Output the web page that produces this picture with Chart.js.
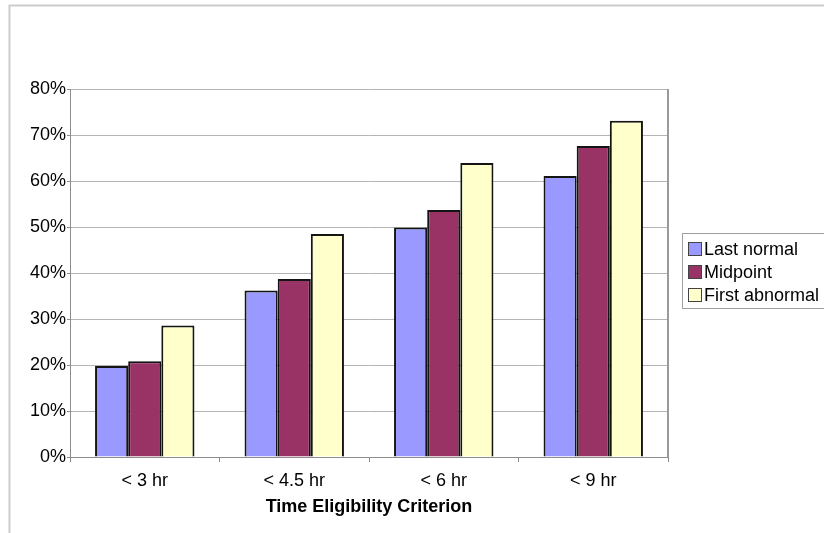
<!DOCTYPE html>
<html>
<head>
<meta charset="utf-8">
<title>Time Eligibility Criterion</title>
<script src="https://cdn.jsdelivr.net/npm/chart.js@4/dist/chart.umd.min.js"></script>
<style>
  html, body { margin: 0; padding: 0; background: #ffffff; }
  #wrap { width: 824px; height: 533px; position: relative; }
</style>
</head>
<body>
<div id="wrap"><canvas id="chart" width="824" height="533"></canvas></div>
<script>
// Share of patients eligible under each time window, by onset definition
const categories = ['< 3 hr', '< 4.5 hr', '< 6 hr', '< 9 hr'];
const seriesNames = ['Last normal', 'Midpoint', 'First abnormal'];
const lastNormal = [19.8, 36.2, 49.9, 61.1];
const midpoint = [20.8, 38.7, 53.7, 67.6];
const firstAbnormal = [28.6, 48.5, 63.9, 73.1];
const yTicks = [0, 10, 20, 30, 40, 50, 60, 70, 80];
const xTitle = 'Time Eligibility Criterion';

const fills = ['#9999ff', '#993366', '#ffffcc'];
const FONT = '"Liberation Sans", Arial, sans-serif';

// Outer frame, plot frame and the boxed legend on the right
const framePlugin = {
  id: 'frame',
  beforeDraw(chart) {
    const ctx = chart.ctx;
    ctx.save();
    ctx.fillStyle = '#ffffff';
    ctx.fillRect(0, 0, chart.width, chart.height);
    ctx.strokeStyle = '#cccccc';
    ctx.lineWidth = 2;
    ctx.strokeRect(9.5, 5.5, chart.width + 20, chart.height + 20);
    ctx.restore();
  },
  afterDraw(chart) {
    const ctx = chart.ctx;
    const a = chart.chartArea;
    ctx.save();
    // plot area right edge
    ctx.strokeStyle = '#9a9a9a';
    ctx.lineWidth = 2;
    ctx.beginPath();
    ctx.moveTo(a.right, a.top);
    ctx.lineTo(a.right, a.bottom);
    ctx.stroke();

    // legend box
    const lx = 682.5, ly = 233.5, lw = 150, lh = 75;
    ctx.strokeStyle = '#a0a0a0';
    ctx.lineWidth = 1;
    ctx.strokeRect(lx, ly, lw, lh);
    ctx.font = '18px ' + FONT;
    ctx.textBaseline = 'middle';
    ctx.textAlign = 'left';
    chart.data.datasets.forEach((ds, i) => {
      const cy = 249 + i * 23;
      ctx.fillStyle = ds.backgroundColor;
      ctx.fillRect(688.5, cy - 6.5, 13, 13);
      ctx.strokeStyle = '#444444';
      ctx.strokeRect(688.5, cy - 6.5, 13, 13);
      ctx.fillStyle = '#000000';
      ctx.fillText(ds.label, 704, cy + 1);
    });
    ctx.restore();
  }
};

const datasets = [lastNormal, midpoint, firstAbnormal].map((vals, i) => ({
  label: seriesNames[i],
  data: vals,
  backgroundColor: fills[i],
  borderColor: '#141414',
  borderWidth: 2,
  categoryPercentage: 0.665,
  barPercentage: 1.0
}));

new Chart(document.getElementById('chart'), {
  type: 'bar',
  data: { labels: categories, datasets },
  plugins: [framePlugin],
  options: {
    responsive: false,
    animation: false,
    devicePixelRatio: 1,
    layout: { padding: { left: 0, top: 89, right: 156, bottom: 0 } },
    plugins: {
      legend: { display: false },
      tooltip: { enabled: false }
    },
    scales: {
      x: {
        afterFit(scale) { scale.height = 76; },
        grid: {
          offset: true,
          drawOnChartArea: false,
          drawTicks: true,
          tickLength: 5,
          color: '#8c8c8c'
        },
        border: { display: true, color: '#8c8c8c', width: 1 },
        ticks: {
          color: '#000000',
          padding: 8,
          font: { family: FONT, size: 18 }
        },
        title: {
          display: true,
          text: xTitle,
          color: '#000000',
          padding: { top: 0, bottom: 15 },
          font: { family: FONT, size: 18, weight: 'bold' }
        }
      },
      y: {
        min: 0,
        max: 80,
        afterFit(scale) { scale.width = 70; },
        afterBuildTicks(scale) { scale.ticks = yTicks.map(v => ({ value: v })); },
        grid: {
          color: '#b4b4b4',
          lineWidth: 1,
          drawTicks: true,
          tickLength: 3,
          tickColor: '#8c8c8c'
        },
        border: { display: true, color: '#8c8c8c', width: 1 },
        ticks: {
          color: '#000000',
          padding: 1,
          font: { family: FONT, size: 18 },
          callback: (v) => v + '%'
        }
      }
    }
  }
});
</script>
</body>
</html>
